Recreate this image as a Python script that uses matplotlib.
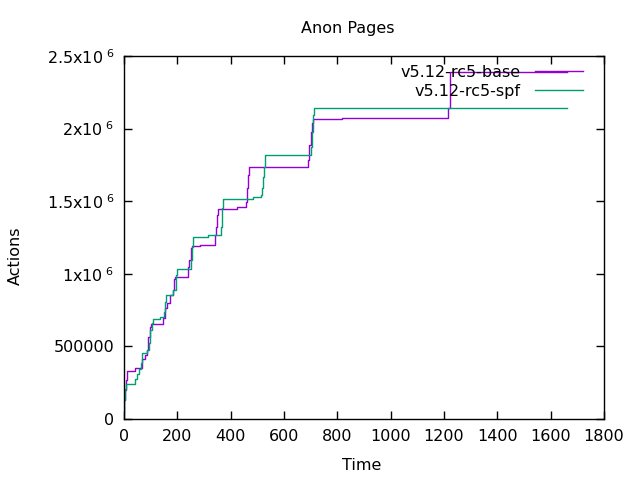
import numpy as np
import matplotlib
matplotlib.use('Agg')
import matplotlib.pyplot as plt

# valores (tiempo, acciones) - escalones
t_base = [0, 1, 4, 8, 13, 40, 68.6, 77.6, 87.4, 91, 97.5, 100, 147, 152.6, 160,
          172.5, 182.6, 187.5, 191, 238.9, 245, 250, 254, 285, 340, 344, 347.6,
          351.4, 422.6, 457.5, 462.4, 466, 470, 691, 695, 700, 704, 710, 816,
          1216, 1221, 1660]
y_base = [62000, 130850, 199700, 268600, 330600, 347800, 409800, 440800, 475200,
          566800, 635700, 654300, 693500, 762400, 801000, 854000, 888400, 966200,
          975900, 1048900, 1095000, 1175600, 1193500, 1200400, 1267200, 1324400,
          1405000, 1448300, 1458000, 1496600, 1588800, 1680400, 1733400, 1783700,
          1887000, 1978600, 2036500, 2064000, 2070900, 2141900, 2392000, 2392000]

t_spf = [0, 1, 4, 7.5, 40, 47.5, 57.5, 62.5, 67.5, 87.5, 92.5, 97.5, 103.7, 110,
         135, 150, 155, 157.5, 185, 195, 200, 250, 255, 260, 315, 362.5, 366, 370,
         485, 512.5, 516, 520, 525, 530, 700, 705, 710, 712.5, 1660]
y_spf = [50000, 130850, 206600, 241000, 273400, 307800, 342300, 387700, 456600,
         475200, 521300, 612900, 659100, 686600, 700400, 739000, 807800, 851900,
         888400, 991700, 1035100, 1095000, 1186600, 1255500, 1267200, 1324400,
         1451100, 1515100, 1526800, 1542700, 1588800, 1668700, 1737600, 1818200,
         1875300, 1978600, 2093600, 2143900, 2143900]

xticks = [0, 200, 400, 600, 800, 1000, 1200, 1400, 1600, 1800]
yticks = [0, 500000, 1000000, 1500000, 2000000, 2500000]
ytick_labels = ['0', '500000', '1x10$^{\\ 6}$', '1.5x10$^{\\ 6}$', '2x10$^{\\ 6}$', '2.5x10$^{\\ 6}$']

plt.rcParams['font.family'] = ['DejaVu Sans']
fs = 11.5

fig = plt.figure(figsize=(6.4, 4.8), dpi=100)
ax = fig.add_axes([124/640, 1 - 419/480, 480/640, 363/480])

ax.plot(t_base, y_base, drawstyle='steps-post', color='#9400D3', lw=1, label='v5.12-rc5-base')
ax.plot(t_spf, y_spf, drawstyle='steps-post', color='#009E73', lw=1, label='v5.12-rc5-spf')

ax.set_xlim(0, 1800)
ax.set_ylim(0, 2500000)
ax.set_xticks(xticks)
ax.set_xticklabels([str(v) for v in xticks], fontsize=fs)
ax.set_yticks(yticks)
ax.set_yticklabels(ytick_labels, fontsize=fs)
ax.tick_params(direction='in', length=6, width=1, top=True, right=True, pad=7)
for s in ax.spines.values():
    s.set_linewidth(1)

fig.text(348/640, 1 - 28/480, 'Anon Pages', ha='center', va='center', fontsize=fs)
fig.text(362/640, 1 - 465/480, 'Time', ha='center', va='center', fontsize=fs)
fig.text(15/640, 1 - 256/480, 'Actions', ha='center', va='center', rotation=90, fontsize=fs)

ax.legend(loc='upper right', frameon=False, markerfirst=False, fontsize=fs,
          handlelength=3.0, handletextpad=0.9, labelspacing=0.25,
          borderaxespad=0.3, borderpad=0.5,
          bbox_to_anchor=(1 - 8/480, 1 + 4/363))

fig.savefig('out.png', dpi=100)
